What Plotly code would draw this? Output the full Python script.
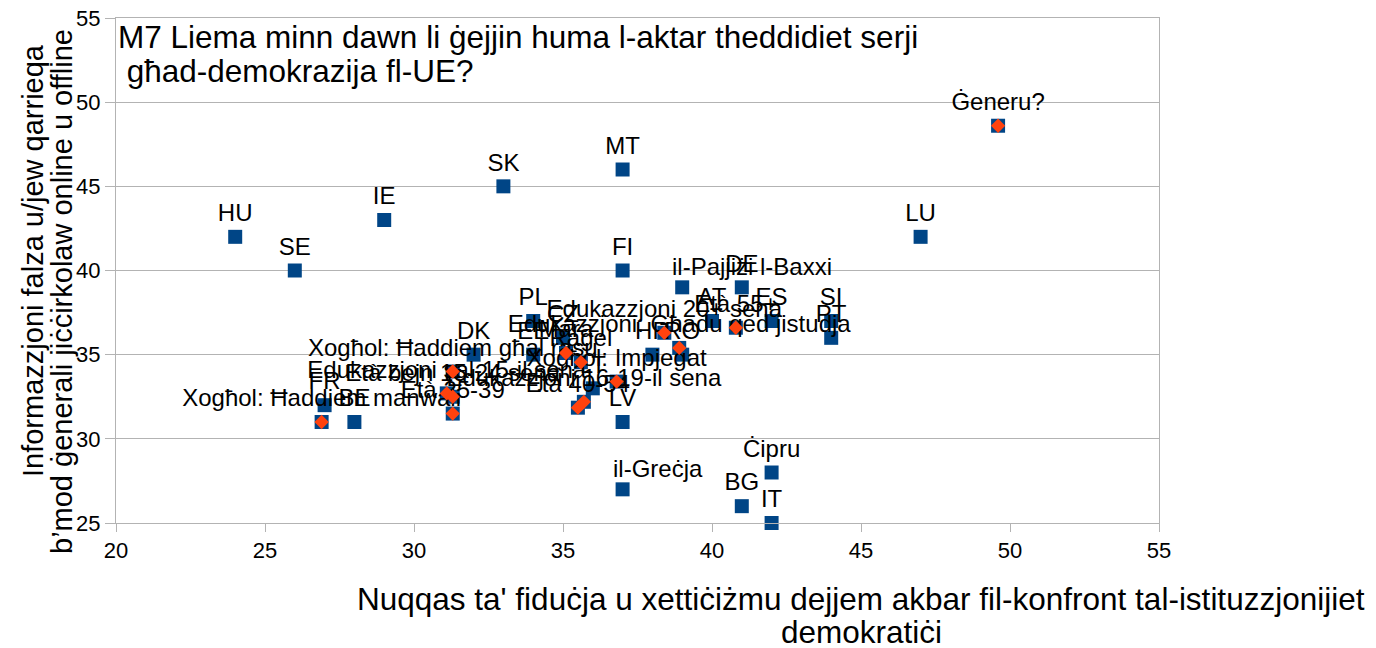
import plotly.graph_objects as go

# Countries
countries = ["HU", "SE", "IE", "SK", "MT", "FI", "LU", "il-Pajjiżi l-Baxxi", "DE", "AT", "ES",
             "SI", "PT", "PL", "CZ", "DK", "EE", "HR", "RO", "LT", "FR", "BE", "LV",
             "il-Greċja", "Ċipru", "BG", "IT"]
country_x = [24, 26, 29, 33, 37, 37, 47, 39, 41, 40, 42, 44, 44, 34, 35, 32, 34, 38, 39, 36, 27, 28, 37, 37, 42, 41, 42]
country_y = [42, 40, 43, 45, 46, 40, 42, 39, 39, 37, 37, 37, 36, 37, 36, 35, 35, 35, 35, 33, 32, 31, 31, 27, 28, 26, 25]

# Socio-demographic groups
groups = ["Ġeneru?", "Xogħol: Ħaddiem manwali", "Xogħol: Ħaddiem għal rasu",
          "Edukazzjoni sal-15-il sena", "Età bejn 15-24 sena", "Età 25-39", "Mara", "Raġel",
          "Xogħol: Impjegat", "Edukazzjoni 16-19-il sena", "Età 40-54",
          "Edukazzjoni: Għadu qed jistudja", "Età 55+", "Edukazzjoni 20+ sena"]
group_x = [49.6, 26.9, 31.3, 31.1, 31.3, 31.3, 35.1, 35.6, 36.8, 35.7, 35.5, 38.9, 40.8, 38.4]
group_y = [48.6, 31.0, 34.0, 32.7, 32.5, 31.5, 35.1, 34.55, 33.4, 32.2, 31.85, 35.4, 36.6, 36.3]

title_lines = ["M7 Liema minn dawn li ġejjin huma l-aktar theddidiet serji", " għad-demokrazija fl-UE?"]
x_title_lines = ["Nuqqas ta' fiduċja u xettiċiżmu dejjem akbar fil-konfront tal-istituzzjonijiet", "demokratiċi"]
y_title_lines = ["Informazzjoni falza u/jew qarrieqa", "b’mod ġenerali jiċċirkolaw online u offline"]

FONT = "Liberation Sans, Arial, sans-serif"
BLUE = "#004586"
ORANGE = "#ff420e"
GRID = "#b3b3b3"

# the page body adds an 8px offset; the figure is sized to fill the rest of the window
OFF = 8
W, H = 1376 - OFF, 648 - OFF
L, R, T, B = 116 - OFF, 217, 18 - OFF, 125
PW, PH = W - L - R, H - T - B


def px_x(px):
    return (px - OFF - L) / PW


def px_y(py):
    return (H - B - (py - OFF)) / PH


all_labels = countries + groups
all_x = country_x + group_x
all_y = country_y + group_y
left_labels = ("il-Pajjiżi l-Baxxi", "il-Greċja")  # these labels start just left of the point

fig = go.Figure()
fig.add_trace(go.Scatter(
    x=all_x, y=all_y,
    mode="markers+text",
    text=["" if lab in left_labels else lab for lab in all_labels],
    textposition="top center",
    textfont=dict(family=FONT, size=24, color="black"),
    marker=dict(symbol="square", size=14, color=BLUE),
    hovertext=all_labels, hoverinfo="text", showlegend=False, cliponaxis=False,
))
fig.add_trace(go.Scatter(
    x=group_x, y=group_y, mode="markers",
    marker=dict(symbol="diamond", size=11, color=ORANGE),
    hoverinfo="skip", showlegend=False, cliponaxis=False,
))

ann = []
for lab, xv, yv in zip(all_labels, all_x, all_y):
    if lab in left_labels:
        ann.append(dict(text=lab, x=xv, y=yv, xref="x", yref="y", xanchor="left",
                        yanchor="middle", xshift=-12, yshift=21, showarrow=False,
                        font=dict(family=FONT, size=24, color="black")))
for line, py in zip(title_lines, [37, 71]):
    ann.append(dict(text=line, xref="paper", yref="paper", x=px_x(116), y=px_y(py),
                    xanchor="left", yanchor="middle", showarrow=False,
                    font=dict(family=FONT, size=31.5, color="black")))
for line, py in zip(x_title_lines, [599, 632]):
    ann.append(dict(text=line, xref="paper", yref="paper", x=px_x(861), y=px_y(py),
                    xanchor="center", yanchor="middle", showarrow=False,
                    font=dict(family=FONT, size=31.5, color="black")))
for line, pxx, py in zip(y_title_lines, [33, 62], [261, 292]):
    ann.append(dict(text=line, xref="paper", yref="paper", x=px_x(pxx), y=px_y(py),
                    xanchor="center", yanchor="middle", showarrow=False, textangle=-90,
                    font=dict(family=FONT, size=29, color="black")))

fig.update_layout(
    width=W, height=H,
    margin=dict(l=L, r=R, t=T, b=B),
    paper_bgcolor="white", plot_bgcolor="white",
    font=dict(family=FONT, size=22, color="black"),
    xaxis=dict(range=[20, 55], dtick=5, tick0=20, showgrid=False, zeroline=False,
               showline=True, linecolor=GRID, linewidth=1, mirror=True,
               ticks="outside", ticklen=8, tickcolor=GRID, automargin=False,
               ticklabeloverflow="allow",
               tickfont=dict(family=FONT, size=22, color="black")),
    yaxis=dict(range=[25, 55], dtick=5, tick0=25, showgrid=True, gridcolor=GRID, gridwidth=1,
               zeroline=False, showline=True, linecolor=GRID, linewidth=1, mirror=True,
               ticks="outside", ticklen=10, tickcolor=GRID, automargin=False,
               ticklabeloverflow="allow",
               tickfont=dict(family=FONT, size=22, color="black")),
    annotations=ann,
)

fig.write_html("out.html")
